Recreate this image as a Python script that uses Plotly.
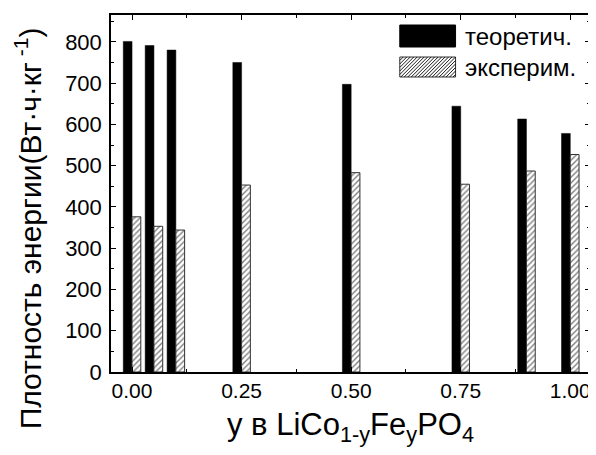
import plotly.graph_objects as go

# ---- data ----
y_fe = [0.0, 0.05, 0.10, 0.25, 0.50, 0.75, 0.90, 1.00]
theoretical = [801, 791, 780, 750, 697, 644, 613, 578]
experimental = [376, 353, 344, 453, 483, 455, 487, 527]
series_names = ["теоретич.", "эксперим."]
x_ticks = [0.0, 0.25, 0.5, 0.75, 1.0]
x_ticklabels = ["0.00", "0.25", "0.50", "0.75", "1.00"]
y_ticks = [0, 100, 200, 300, 400, 500, 600, 700, 800]

FONT = "Arial, Liberation Sans, sans-serif"
OFF = 8  # default page body margin
W, H = 596 - OFF, 455 - OFF
L, R, T, B = 111 - OFF, 4, 15 - OFF, 83
PW, PH = W - L - R, H - T - B


def px(xpage):
    return (xpage - OFF - L) / PW


def py(ypage):
    return (H - B - (ypage - OFF)) / PH


fig = go.Figure()
fig.add_trace(go.Bar(
    x=y_fe, y=theoretical, name=series_names[0],
    width=0.02, offset=-0.02,
    marker=dict(color="black", line=dict(color="black", width=0.5)),
    showlegend=False,
))
fig.add_trace(go.Bar(
    x=y_fe, y=experimental, name=series_names[1],
    width=0.02, offset=0.0,
    marker=dict(color="white", line=dict(color="#333333", width=1),
                pattern=dict(shape="/", size=4, solidity=0.35,
                             fgcolor="black", bgcolor="white")),
    showlegend=False,
))

# ---- custom legend (boxes + text) ----
bx0, bx1 = 401, 457
shapes = [
    dict(type="rect", xref="paper", yref="paper",
         x0=px(bx0), x1=px(bx1), y0=py(47), y1=py(25),
         fillcolor="black", line=dict(color="black", width=1)),
    dict(type="rect", xref="paper", yref="paper",
         x0=px(bx0), x1=px(bx1), y0=py(77), y1=py(57),
         fillcolor="white", line=dict(color="#333333", width=1)),
]
hy0, hy1 = 57, 77
step = 3.5
segs = []
xs = bx0 - (hy1 - hy0)
while xs < bx1:
    x_a, y_a = xs, hy1
    x_b, y_b = xs + (hy1 - hy0), hy0
    if x_a < bx0:
        y_a = y_a - (bx0 - x_a)
        x_a = bx0
    if x_b > bx1:
        y_b = y_b + (x_b - bx1)
        x_b = bx1
    if x_b > x_a:
        segs.append(f"M{px(x_a):.5f},{py(y_a):.5f}L{px(x_b):.5f},{py(y_b):.5f}")
    xs += step
shapes.append(dict(type="path", xref="paper", yref="paper", path=" ".join(segs),
                   line=dict(color="black", width=0.9)))

annotations = [
    dict(text=series_names[0], xref="paper", yref="paper", x=px(464), y=py(36),
         xanchor="left", yanchor="middle", showarrow=False,
         font=dict(family=FONT, size=24, color="black")),
    dict(text=series_names[1], xref="paper", yref="paper", x=px(464), y=py(67),
         xanchor="left", yanchor="middle", showarrow=False,
         font=dict(family=FONT, size=24, color="black")),
    dict(text="y в LiCo<sub>1-y</sub>Fe<sub>y</sub>PO<sub>4</sub>",
         xref="paper", yref="paper", x=0.5, y=py(427),
         xanchor="center", yanchor="middle", showarrow=False,
         font=dict(family=FONT, size=31, color="black")),
    dict(text="Плотность энергии(Вт·ч·кг<sup> -1</sup>)",
         xref="paper", yref="paper", x=px(28), y=py(228), textangle=-90,
         xanchor="center", yanchor="middle", showarrow=False,
         font=dict(family=FONT, size=30, color="black")),
]

fig.update_layout(
    width=W, height=H,
    margin=dict(l=L, r=R, t=T, b=B, pad=0),
    paper_bgcolor="white", plot_bgcolor="white",
    barmode="overlay",
    font=dict(family=FONT, size=21, color="black"),
    shapes=shapes, annotations=annotations,
    showlegend=False,
)
fig.update_xaxes(
    range=[-0.048, 1.045], tickvals=x_ticks, ticktext=x_ticklabels,
    ticks="inside", ticklen=5, tickwidth=1, tickcolor="black",
    minor=dict(ticks="inside", dtick=0.125, tick0=0, ticklen=3, tickcolor="black"),
    showline=True, linecolor="black", linewidth=1.5, mirror="ticks",
    showgrid=False, zeroline=False, ticklabelstandoff=-1,
    tickfont=dict(family=FONT, size=21, color="black"),
)
fig.update_yaxes(
    range=[0, 865], tickvals=y_ticks,
    ticks="inside", ticklen=5, tickwidth=1, tickcolor="black",
    minor=dict(ticks="inside", dtick=50, tick0=0, ticklen=3, tickcolor="black"),
    showline=True, linecolor="black", linewidth=1.5, mirror="ticks",
    showgrid=False, zeroline=False, ticklabelstandoff=3,
    tickfont=dict(family=FONT, size=22, color="black"),
)

fig.write_html("out.html")
